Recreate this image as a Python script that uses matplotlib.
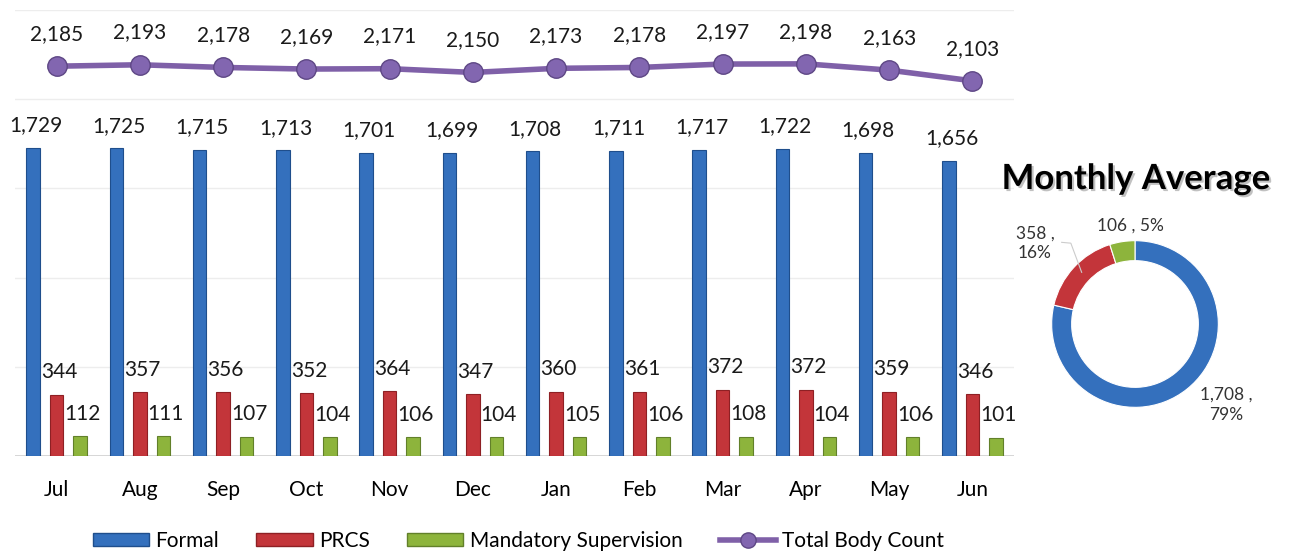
import matplotlib.pyplot as plt
import matplotlib.patheffects as pe
from matplotlib.patches import Patch
from matplotlib.lines import Line2D
import numpy as np

plt.rcParams['font.family'] = ['Lato', 'DejaVu Sans']

# dados
meses = ["Jul", "Aug", "Sep", "Oct", "Nov", "Dec", "Jan", "Feb", "Mar", "Apr", "May", "Jun"]
formal = [1729, 1725, 1715, 1713, 1701, 1699, 1708, 1711, 1717, 1722, 1698, 1656]
prcs = [344, 357, 356, 352, 364, 347, 360, 361, 372, 372, 359, 346]
mandatory = [112, 111, 107, 104, 106, 104, 105, 106, 108, 104, 106, 101]
total = [2185, 2193, 2178, 2169, 2171, 2150, 2173, 2178, 2197, 2198, 2163, 2103]

media_nomes = ["Formal", "PRCS", "Mandatory Supervision"]
media_valores = [1708, 358, 106]
media_pct = ["79%", "16%", "5%"]

azul = "#3470BD"
vermelho = "#C3353A"
verde = "#8DB43C"
roxo = "#7F60A8"

fig = plt.figure(figsize=(12.91, 5.52), dpi=100)
ax = fig.add_axes([15 / 1291, 1 - 456 / 552, 999 / 1291, 446 / 552])

x = np.arange(len(meses))
w = 0.16
off = 0.282
b1 = ax.bar(x - off, formal, w, color=azul, edgecolor="#1F4E8C", linewidth=0.8, zorder=3)
b2 = ax.bar(x, prcs, w, color=vermelho, edgecolor="#8E2024", linewidth=0.8, zorder=3)
b3 = ax.bar(x + off, mandatory, w, color=verde, edgecolor="#62802A", linewidth=0.8, zorder=3)

ax.plot(x, total, color=roxo, linewidth=4, marker="o", markersize=14,
        markerfacecolor="#8266B0", markeredgecolor="#5E4785", markeredgewidth=1, zorder=4)

for barras, vals in [(b1, formal), (b2, prcs), (b3, mandatory)]:
    for b, v in zip(barras, vals):
        ax.annotate(f"{v:,}", (b.get_x() + b.get_width() / 2 + 0.03, v), xytext=(0, 9),
                    textcoords="offset points", ha="center", va="bottom", fontsize=15, color="#1a1a1a")

for xi, v in zip(x, total):
    ax.annotate(f"{v:,}", (xi, v), xytext=(0, 16), textcoords="offset points",
                ha="center", va="bottom", fontsize=15, color="#1a1a1a")

ax.set_xlim(-0.5, len(meses) - 0.5)
ax.set_ylim(0, 2500)
ax.set_yticks(range(0, 2501, 500))
ax.yaxis.grid(True, color="#EDEDED", linewidth=1, zorder=0)
ax.axhline(0, color="#D0D0D0", linewidth=1.2, zorder=2)
ax.tick_params(axis="y", left=False, labelleft=False)
ax.tick_params(axis="x", bottom=False, labelsize=15, pad=14)
ax.set_xticks(x)
ax.set_xticklabels(meses)
for s in ax.spines.values():
    s.set_visible(False)

handles = [
    Patch(facecolor=azul, edgecolor="#1F4E8C", label="Formal"),
    Patch(facecolor=vermelho, edgecolor="#8E2024", label="PRCS"),
    Patch(facecolor=verde, edgecolor="#62802A", label="Mandatory Supervision"),
    Line2D([0], [0], color=roxo, linewidth=4, marker="o", markersize=11,
           markerfacecolor="#8266B0", markeredgecolor="#5E4785", label="Total Body Count"),
]
ax.legend(handles=handles, loc="center", bbox_to_anchor=(0.504, -0.19), ncol=4, frameon=False,
          fontsize=15, handlelength=2.7, handleheight=0.6, handletextpad=0.3, columnspacing=1.8)

# donut da media mensal
ax2 = fig.add_axes([1035 / 1291, 1 - 424 / 552, 200 / 1291, 200 / 552])
ax2.pie(media_valores, colors=[azul, vermelho, verde], startangle=90, counterclock=False,
        radius=1, wedgeprops=dict(width=0.24, edgecolor="white", linewidth=0.8))
ax2.set_xlim(-1.2, 1.2)
ax2.set_ylim(-1.2, 1.2)
ax2.set_aspect("equal")
ax2.axis("off")

ax2.text(-0.06, 1.18, f"{media_valores[2]} , {media_pct[2]}", ha="center", va="center", fontsize=12.5, color="#333333")
ax2.text(-1.2, 0.97, f"{media_valores[1]} ,\n{media_pct[1]}", ha="center", va="center", fontsize=12.5,
         color="#333333", linespacing=1.3)
ax2.text(1.1, -0.97, f"{media_valores[0]:,} ,\n{media_pct[0]}", ha="center", va="center", fontsize=12.5,
         color="#333333", linespacing=1.3)
ax2.plot([-0.88, -0.77, -0.64], [0.98, 0.97, 0.62], color="#CCCCCC", linewidth=0.8)

fig.text(1136 / 1291, 1 - 179 / 552, "Monthly Average", ha="center", va="center", fontsize=25,
         fontweight="bold", color="black",
         path_effects=[pe.withSimplePatchShadow(offset=(1.5, -1.5), shadow_rgbFace="#999999", alpha=0.6)])

fig.savefig("out.png", dpi=100)
